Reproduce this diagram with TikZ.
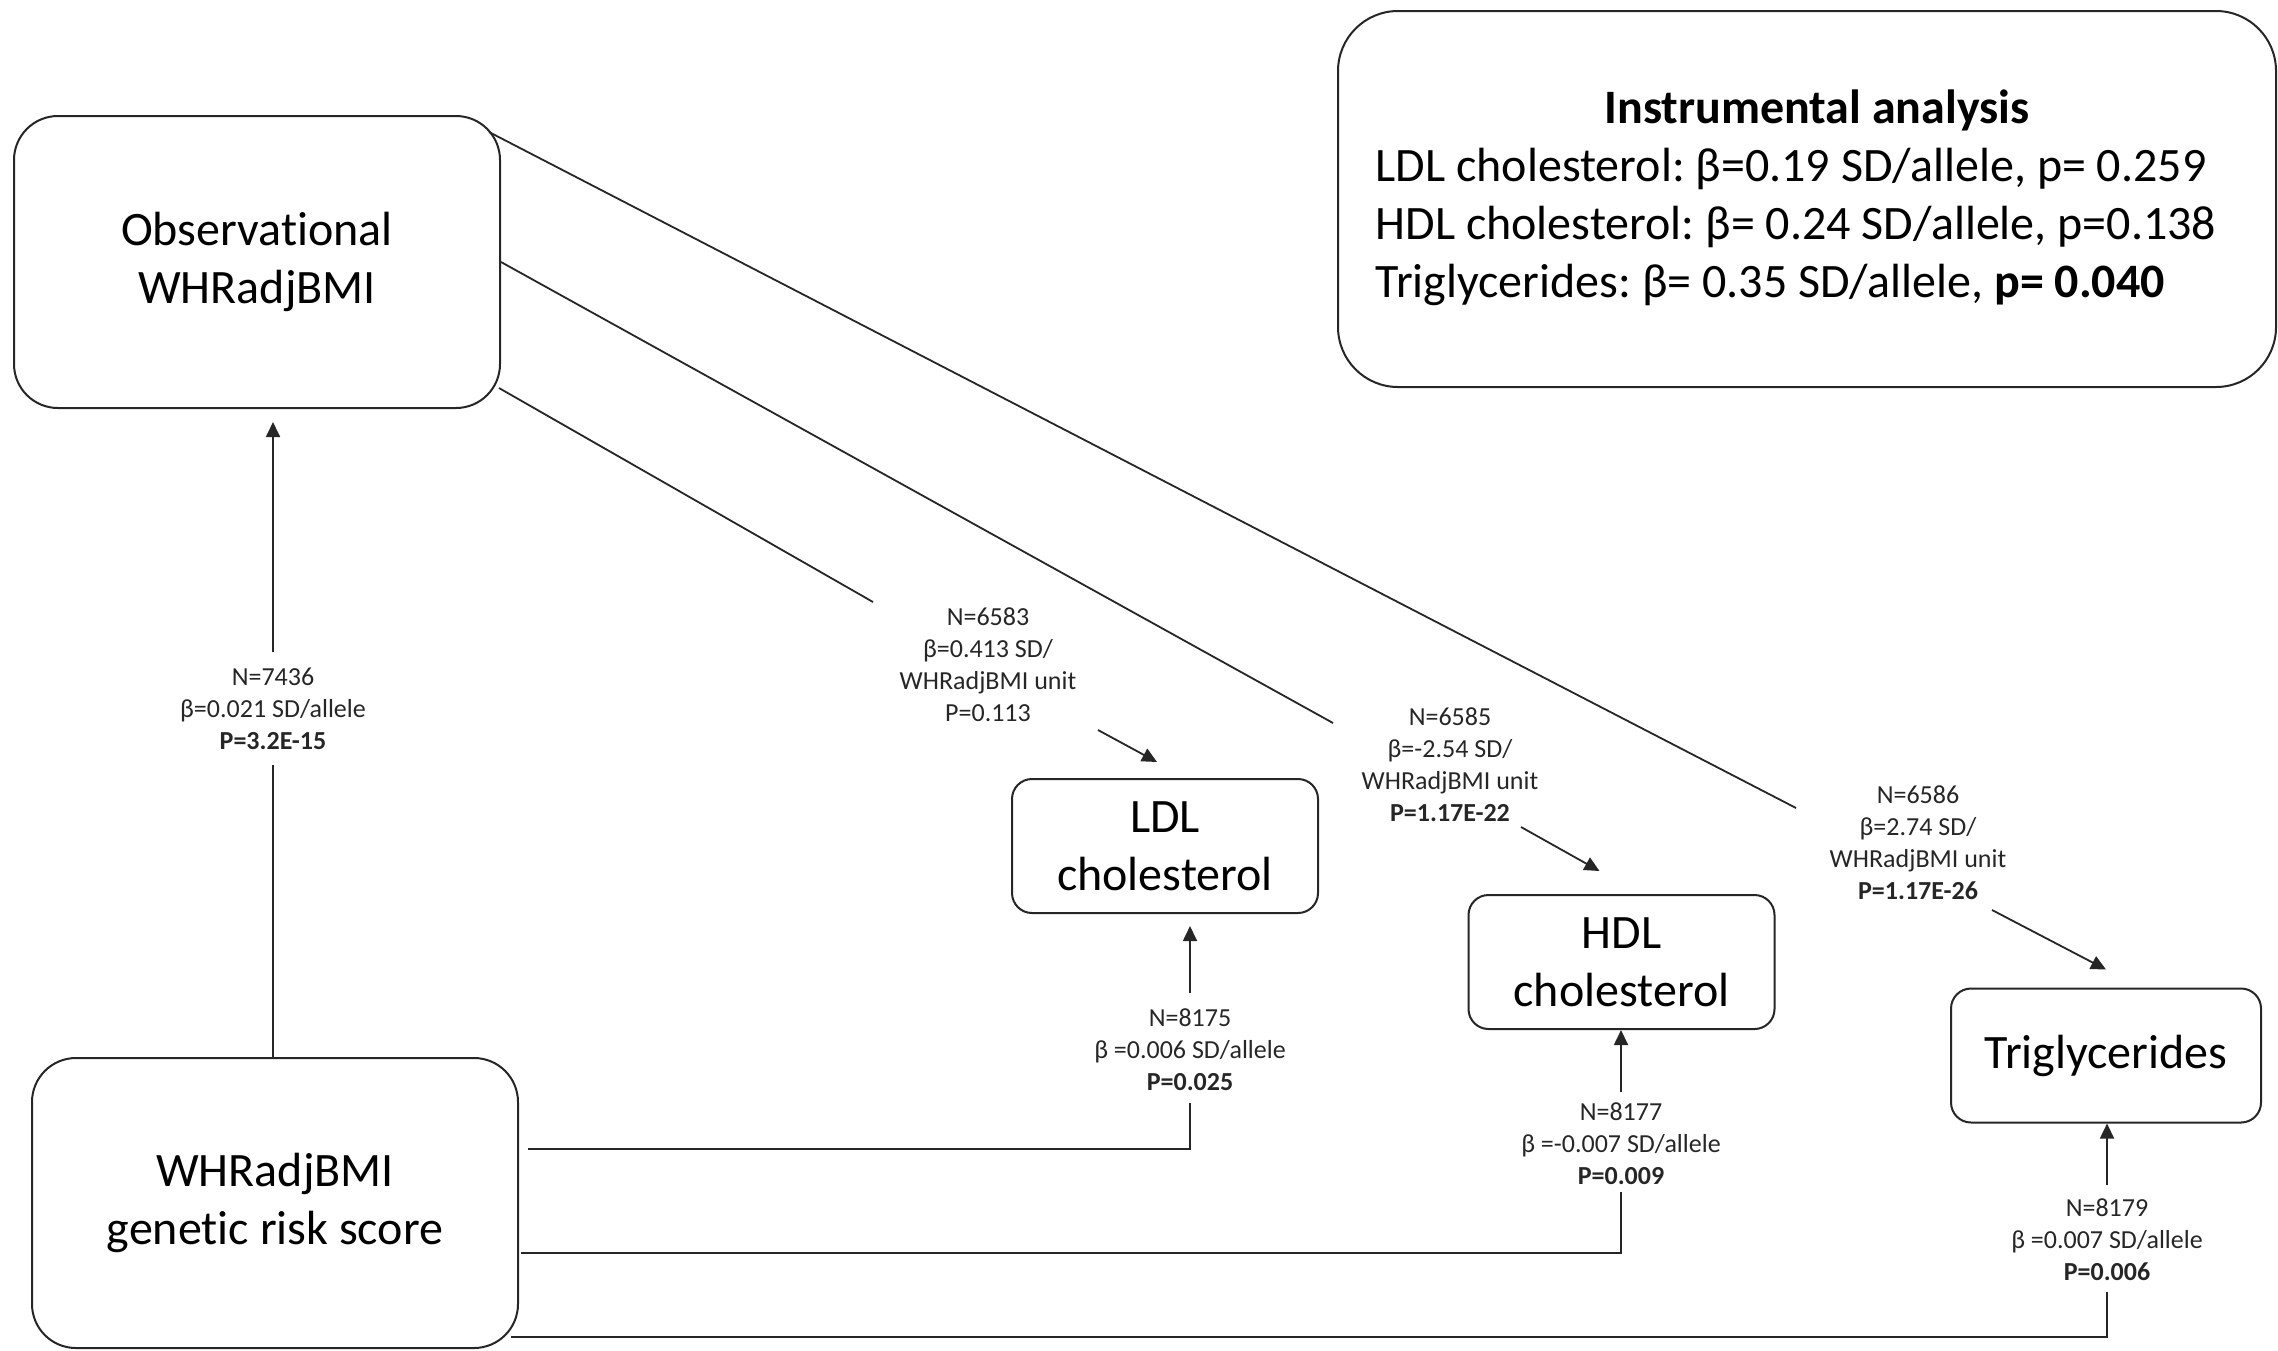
\documentclass[tikz,border=0pt]{standalone}
\usepackage{fontspec}
\setmainfont[Ligatures=NoCommon]{Carlito}
\frenchspacing
\usetikzlibrary{arrows.meta}
\begin{document}
\begin{tikzpicture}[x=0.5pt,y=-0.5pt,
  box/.style={draw=black!85, line width=1pt, align=center, inner sep=0pt, fill=white,
              font=\fontsize{24}{29}\selectfont},
  bigbox/.style={box, rounded corners=22pt},
  smallbox/.style={box, rounded corners=10pt},
  lbl/.style={align=center, inner sep=0pt, font=\fontsize{13}{16}\selectfont, text=black!85},
  conn/.style={draw=black!85, line width=0.9pt},
  arr/.style={conn, -{Triangle[length=7.5pt,width=7pt]}}]
\useasboundingbox (0,0) rectangle (2278,1350);

% boxes
\node[bigbox, minimum width=243pt, minimum height=146pt] (obs) at (257,262) {Observational\\WHRadjBMI};
\node[bigbox, minimum width=243pt, minimum height=145pt] (grs) at (275,1203) {WHRadjBMI\\genetic risk score};
\node[smallbox, minimum width=153pt, minimum height=67pt] (ldl) at (1165,846) {LDL\\cholesterol};
\node[smallbox, minimum width=153pt, minimum height=67pt] (hdl) at (1621.5,962) {HDL\\cholesterol};
\node[smallbox, minimum width=155pt, minimum height=67pt] (trig) at (2106,1055.5) {Triglycerides};
\node[box, rounded corners=30pt, minimum width=469pt, minimum height=188pt] (instr) at (1807,199)
  {\begin{tabular}{@{}l@{\hspace{11pt}}}
   \multicolumn{1}{@{}c@{}}{\hspace*{10pt}\textbf{Instrumental analysis}}\\
   LDL cholesterol: β=0.19 SD/allele, p= 0.259\\
   HDL cholesterol: β= 0.24 SD/allele, p=0.138\\
   Triglycerides: β= 0.35 SD/allele, \textbf{p= 0.040}
   \end{tabular}};

% labels
\node[lbl] (lA) at (273,708.5) {N=7436\\β=0.021 SD/allele\\\textbf{P=3.2E-15}};
\node[lbl] (lL) at (988,664.5) {N=6583\\β=0.413 SD/\\WHRadjBMI unit\\P=0.113};
\node[lbl] (lH) at (1450,765) {N=6585\\β=-2.54 SD/\\WHRadjBMI unit\\\textbf{P=1.17E-22}};
\node[lbl] (lT) at (1918,842.5) {N=6586\\β=2.74 SD/\\WHRadjBMI unit\\\textbf{P=1.17E-26}};
\node[lbl] (bL) at (1190,1050) {N=8175\\β =0.006 SD/allele\\\textbf{P=0.025}};
\node[lbl] (bH) at (1621,1144) {N=8177\\β =-0.007 SD/allele\\\textbf{P=0.009}};
\node[lbl] (bT) at (2107,1240) {N=8179\\β =0.007 SD/allele\\\textbf{P=0.006}};

% break points
\coordinate (a1) at (273,765);
\coordinate (a2) at (273,652);
\coordinate (dA1) at (1796,808);
\coordinate (dA2) at (1992,910);
\coordinate (dB1) at (1333,723);
\coordinate (dB2) at (1521,827);
\coordinate (dC1) at (873,602);
\coordinate (dC2) at (1098,730);
\coordinate (vL1) at (1190,1103);
\coordinate (vL2) at (1190,993);
\coordinate (vH1) at (1621,1192);
\coordinate (vH2) at (1621,1092);
\coordinate (vT1) at (2107,1292);
\coordinate (vT2) at (2107,1185);

% GRS -> observational
\draw[conn] (grs.north -| a1) -- (a1);
\draw[arr] (a2) -- ([yshift=-6.5pt]obs.south -| a2);

% observational -> lipids
\draw[conn] ([xshift=-6pt,yshift=-8.5pt]obs.north east) -- (dA1);
\draw[arr] (dA2) -- ([yshift=9pt]trig.north);
\draw[conn] (obs.east) -- (dB1);
\draw[arr] (dB2) -- ([xshift=-11pt,yshift=11.5pt]hdl.north);
\draw[conn] ([xshift=-1pt,yshift=10.5pt]obs.south east) -- (dC1);
\draw[arr] (dC2) -- ([xshift=-4pt,yshift=8pt]ldl.north);

% GRS -> lipids
\draw[conn] ([xshift=4.5pt,yshift=27pt]grs.east) -| (vL1);
\draw[arr] (vL2) -- ([yshift=-6pt]ldl.south -| vL2);
\draw[conn] ([xshift=1pt,yshift=-25pt]grs.east) -| (vH1);
\draw[arr] (vH2) -- (hdl.south -| vH2);
\draw[conn] ([xshift=-4pt,yshift=6pt]grs.south east) -| (vT1);
\draw[arr] (vT2) -- (trig.south -| vT2);
\end{tikzpicture}
\end{document}
